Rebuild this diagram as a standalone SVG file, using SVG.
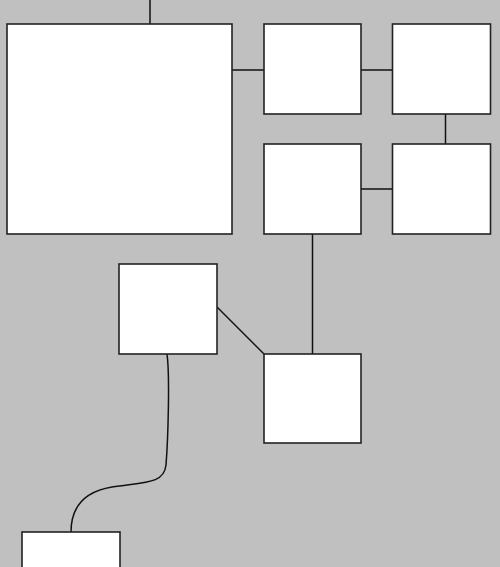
<svg xmlns="http://www.w3.org/2000/svg" width="500" height="567" viewBox="0 0 500 567">
<style>
.n{fill:#fff;stroke:#222;stroke-width:1.6}
.c{fill:none;stroke:#111;stroke-width:1.5}
</style>
<rect width="500" height="567" fill="#c0c0c0"/>
<g id="connectors">
<line class="c" x1="150" y1="0" x2="150" y2="24"/>
<line class="c" x1="232" y1="70" x2="264" y2="70"/>
<line class="c" x1="361" y1="70" x2="392" y2="70"/>
<line class="c" x1="445.5" y1="114" x2="445.5" y2="144"/>
<line class="c" x1="361" y1="189" x2="392" y2="189"/>
<line class="c" x1="312.5" y1="234" x2="312.5" y2="354"/>
<line class="c" x1="217" y1="307" x2="264" y2="354"/>
<path class="c" d="M167,354 C170,375 168,440 166,465 C164,484 145,482 112,487 C82,492 71,510 71,532"/>
</g>
<g id="node-main"><rect class="n" x="7" y="24" width="225" height="210"/></g>
<g id="node-a"><rect class="n" x="264" y="24" width="97" height="90"/></g>
<g id="node-b"><rect class="n" x="392.5" y="24" width="98" height="90"/></g>
<g id="node-c"><rect class="n" x="264" y="144" width="97" height="90"/></g>
<g id="node-d"><rect class="n" x="392.5" y="144" width="98" height="90"/></g>
<g id="node-e"><rect class="n" x="119" y="264" width="98" height="90"/></g>
<g id="node-f"><rect class="n" x="264" y="354" width="97" height="89"/></g>
<g id="node-g"><rect class="n" x="22" y="532" width="98" height="90"/></g>
</svg>
